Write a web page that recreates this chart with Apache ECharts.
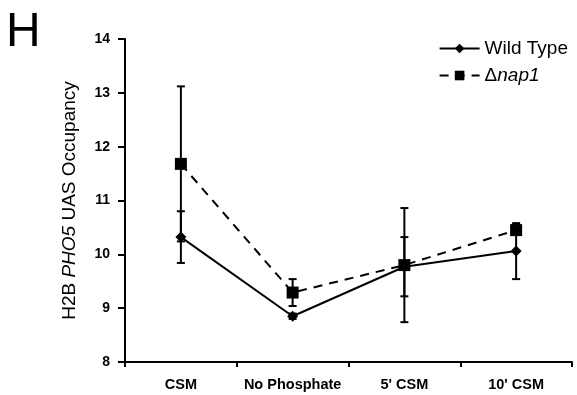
<!DOCTYPE html>
<html><head><meta charset="utf-8">
<script src="https://cdn.jsdelivr.net/npm/echarts@6/dist/echarts.min.js"></script>
<style>html,body{margin:0;padding:0;background:#fff}#c{width:577px;height:395px}</style>
</head><body><div id="c"></div>
<script>
const categories = ['CSM', 'No Phosphate', "5' CSM", "10' CSM"];
const wildType = [10.32, 8.85, 9.77, 10.06];
const wildTypeErr = [0.48, 0.05, 0.55, 0.52];
const nap1 = [11.68, 9.29, 9.80, 10.45];
const nap1Err = [1.44, 0.25, 1.06, 0.09];
const yTicks = [8, 9, 10, 11, 12, 13, 14];

function errData(vals, errs) {
  return vals.map((v, i) => [i, v - errs[i], v + errs[i]]);
}
function renderErr(params, api) {
  const x = api.value(0);
  const lo = api.coord([x, api.value(1)]);
  const hi = api.coord([x, api.value(2)]);
  const w = 4;
  const st = { stroke: '#000', lineWidth: 2 };
  return { type: 'group', children: [
    { type: 'line', shape: { x1: lo[0], y1: lo[1], x2: hi[0], y2: hi[1] }, style: st },
    { type: 'line', shape: { x1: lo[0] - w, y1: lo[1], x2: lo[0] + w, y2: lo[1] }, style: st },
    { type: 'line', shape: { x1: hi[0] - w, y1: hi[1], x2: hi[0] + w, y2: hi[1] }, style: st }
  ]};
}
const FF = 'Liberation Sans, Arial, sans-serif';
const chart = echarts.init(document.getElementById('c'));
chart.setOption({
  animation: false,
  textStyle: { fontFamily: FF },
  graphic: [{ type: 'text', left: 6, top: 9, style: { text: 'H', fontSize: 48, fontFamily: FF, fill: '#000' } }],
  grid: { left: 125, right: 5, top: 39, bottom: 33 },
  legend: {
    right: 4, top: 34, orient: 'vertical', itemGap: 8, itemWidth: 40, itemHeight: 12,
    textStyle: { fontSize: 19, color: '#000', rich: { i: { fontStyle: 'italic', fontSize: 19 } } },
    formatter: n => n === 'nap1' ? 'Δ{i|nap1}' : n,
    data: ['Wild Type', 'nap1']
  },
  xAxis: {
    type: 'category', data: categories, boundaryGap: true,
    axisLine: { lineStyle: { color: '#000', width: 2 } },
    axisTick: { show: true, length: 5, lineStyle: { color: '#000', width: 2 } },
    axisLabel: { color: '#000', fontWeight: 'bold', fontSize: 14.5, margin: 15, interval: 0, hideOverlap: false }
  },
  yAxis: {
    type: 'value', min: yTicks[0], max: yTicks[yTicks.length - 1], interval: 1,
    name: 'H2B {i|PHO5} UAS Occupancy', nameLocation: 'middle', nameGap: 46,
    nameTextStyle: { fontSize: 19, color: '#000', rich: { i: { fontStyle: 'italic', fontSize: 19 } } },
    axisLine: { show: true, lineStyle: { color: '#000', width: 2 } },
    axisTick: { show: true, length: 7, lineStyle: { color: '#000', width: 2 } },
    axisLabel: { color: '#000', fontWeight: 'bold', fontSize: 14, margin: 15 },
    splitLine: { show: false }
  },
  series: [
    { type: 'custom', renderItem: renderErr, data: errData(nap1, nap1Err), z: 1, silent: true },
    { type: 'custom', renderItem: renderErr, data: errData(wildType, wildTypeErr), z: 1, silent: true },
    { name: 'Wild Type', type: 'line', data: wildType, symbol: 'diamond', symbolSize: 11,
      itemStyle: { color: '#000' }, lineStyle: { color: '#000', width: 2 }, z: 3 },
    { name: 'nap1', type: 'line', data: nap1, symbol: 'rect', symbolSize: 12,
      itemStyle: { color: '#000' }, lineStyle: { color: '#000', width: 2, type: [9, 7] }, z: 3 }
  ]
});
</script></body></html>
